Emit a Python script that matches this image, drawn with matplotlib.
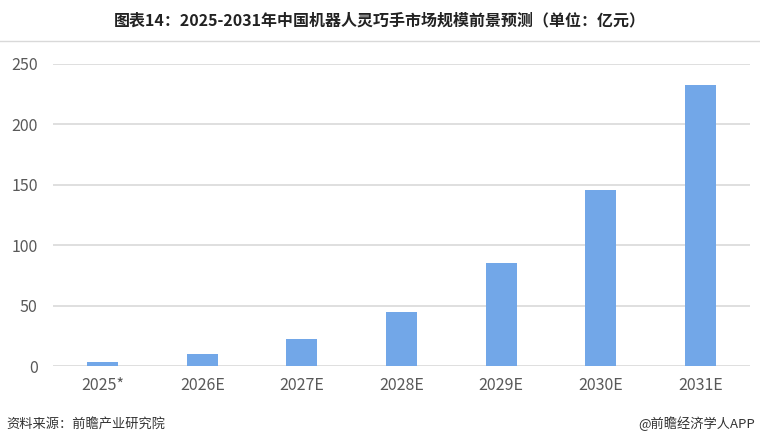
import matplotlib
matplotlib.use("Agg")
import matplotlib.pyplot as plt
from matplotlib.lines import Line2D

plt.rcParams['font.family'] = ['Noto Sans CJK SC', 'DejaVu Sans']

categories = ["2025*", "2026E", "2027E", "2028E", "2029E", "2030E", "2031E"]
values = [3, 10, 22, 45, 85, 146, 233]
yticks = [0, 50, 100, 150, 200, 250]

fig = plt.figure(figsize=(7.6, 4.48), dpi=100)
ax = fig.add_axes([53/760, 1-366/448, (750-53)/760, (366-64)/448])

x = list(range(len(categories)))
ax.bar(x, values, width=0.31, color="#72A7E8", zorder=3)
ax.set_xlim(-0.5, len(categories)-0.5)
ax.set_ylim(0, 250)
ax.set_yticks(yticks)
ax.set_xticks(x)
ax.set_xticklabels(categories)
ax.grid(axis='y', color="#D9D9D9", linewidth=1.2, zorder=0)
for s in ax.spines.values():
    s.set_visible(False)
ax.tick_params(axis='both', length=0, labelsize=11.5, colors="#595959")
ax.tick_params(axis='y', pad=11)
ax.tick_params(axis='x', pad=8)

fig.text(0.5, 1-20/448, "图表14：2025-2031年中国机器人灵巧手市场规模前景预测（单位：亿元）",
         ha='center', va='center', fontsize=11.5, fontweight='bold', color="#222222")
fig.add_artist(Line2D([0, 1], [1-41/448, 1-41/448], color="#D9D9D9", linewidth=1.0,
                      transform=fig.transFigure))
fig.text(6/760, 1-424/448, "资料来源：前瞻产业研究院", ha='left', va='center',
         fontsize=9.5, color="#333333")
fig.text(755/760, 1-424/448, "@前瞻经济学人APP", ha='right', va='center',
         fontsize=9.5, color="#333333")

fig.savefig("out.png", dpi=100)
